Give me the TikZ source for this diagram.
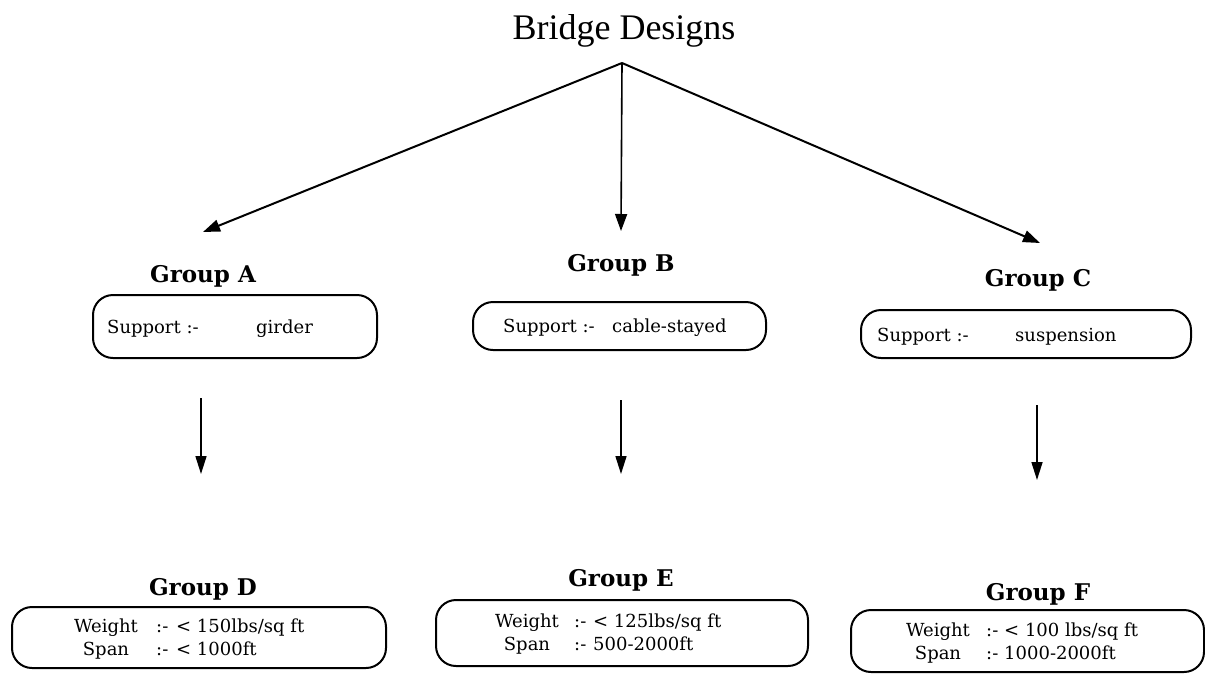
\documentclass[tikz,border=0pt]{standalone}
\usepackage{fontspec}
\setmainfont{DejaVu Serif}
\newfontfamily\titlefont{Liberation Serif}
\usetikzlibrary{arrows.meta}

\begin{document}
\begin{tikzpicture}[x=1pt,y=-1pt,
  conn/.style={line width=2pt, -{Triangle[length=17pt,width=12pt]}},
  down/.style={line width=1.6pt, -{Triangle[length=18pt,width=11pt]}},
  box/.style={draw, line width=2pt, rounded corners=20pt, inner sep=0pt},
  grp/.style={font=\fontsize{23}{27}\selectfont\bfseries, inner sep=0pt},
  txt/.style={font=\fontsize{18}{22}\selectfont, inner sep=0pt, anchor=base west},
  row/.style={font=\fontsize{18}{22}\selectfont, inner sep=0pt, anchor=base west},
  rowc/.style={font=\fontsize{18}{22}\selectfont, inner sep=0pt, anchor=base},
]
\useasboundingbox (0,0) rectangle (1205,673);

% title and the three main branches
\node[font=\titlefont\fontsize{36}{42}\selectfont, inner sep=0pt] (title) at (624,31) {Bridge Designs};
\coordinate (apex) at (622,63);
\coordinate (tipA) at (203,232);
\coordinate (tipB) at (621,231);
\coordinate (tipC) at (1040,243);
\draw[conn] (apex) -- (tipA);
\draw[conn, line width=1.6pt] (apex) -- (tipB);
\draw[conn] (apex) -- (tipC);

% first level groups
\node[grp] (grpA) at (203,276) {Group A};
\node[grp] (grpB) at (621,265) {Group B};
\node[grp] (grpC) at (1038,280) {Group C};

\node[box, minimum width=284pt, minimum height=63pt] (boxA) at (235,326.5) {};
\node[box, minimum width=293pt, minimum height=48pt] (boxB) at (619.5,326) {};
\node[box, minimum width=330pt, minimum height=48pt] (boxC) at (1026,334) {};

\node[txt] (supA) at (107,333) {Support :-};
\node[txt] (valA) at (256,333) {girder};
\node[txt] (supB) at (503,332) {Support :-};
\node[txt] (valB) at (612,332) {cable-stayed};
\node[txt] (supC) at (877,341) {Support :-};
\node[txt] (valC) at (1015,341) {suspension};

% links down to the second level
\coordinate (dA1) at (201,398); \coordinate (dA2) at (201,474);
\coordinate (dB1) at (621,400); \coordinate (dB2) at (621,474);
\coordinate (dC1) at (1037,405); \coordinate (dC2) at (1037,480);
\draw[down] (dA1) -- (dA2);
\draw[down] (dB1) -- (dB2);
\draw[down] (dC1) -- (dC2);

% second level groups
\node[grp] (grpD) at (203,589) {Group D};
\node[grp] (grpE) at (621,580) {Group E};
\node[grp] (grpF) at (1038,594) {Group F};

\node[box, minimum width=374pt, minimum height=61pt] (boxD) at (199,637.5) {};
\node[box, minimum width=372pt, minimum height=66pt] (boxE) at (622,633) {};
\node[box, minimum width=353pt, minimum height=62pt] (boxF) at (1027.5,641) {};

\node[rowc] (wD) at (106,632) {Weight};
\node[row]  (wDc) at (156,632) {:-};
\node[row]  (wDv) at (176,632) {< 150lbs/sq ft};
\node[rowc] (sD) at (106,655) {Span};
\node[row]  (sDc) at (156,655) {:-};
\node[row]  (sDv) at (176,655) {< 1000ft};

\node[rowc] (wE) at (527,627) {Weight};
\node[row]  (wEc) at (574,627) {:-};
\node[row]  (wEv) at (593,627) {< 125lbs/sq ft};
\node[rowc] (sE) at (527,650) {Span};
\node[row]  (sEc) at (574,650) {:-};
\node[row]  (sEv) at (593,650) {500-2000ft};

\node[rowc] (wF) at (938,636) {Weight};
\node[row]  (wFc) at (986,636) {:-};
\node[row]  (wFv) at (1004,636) {< 100 lbs/sq ft};
\node[rowc] (sF) at (938,659) {Span};
\node[row]  (sFc) at (986,659) {:-};
\node[row]  (sFv) at (1004,659) {1000-2000ft};
\end{tikzpicture}
\end{document}
